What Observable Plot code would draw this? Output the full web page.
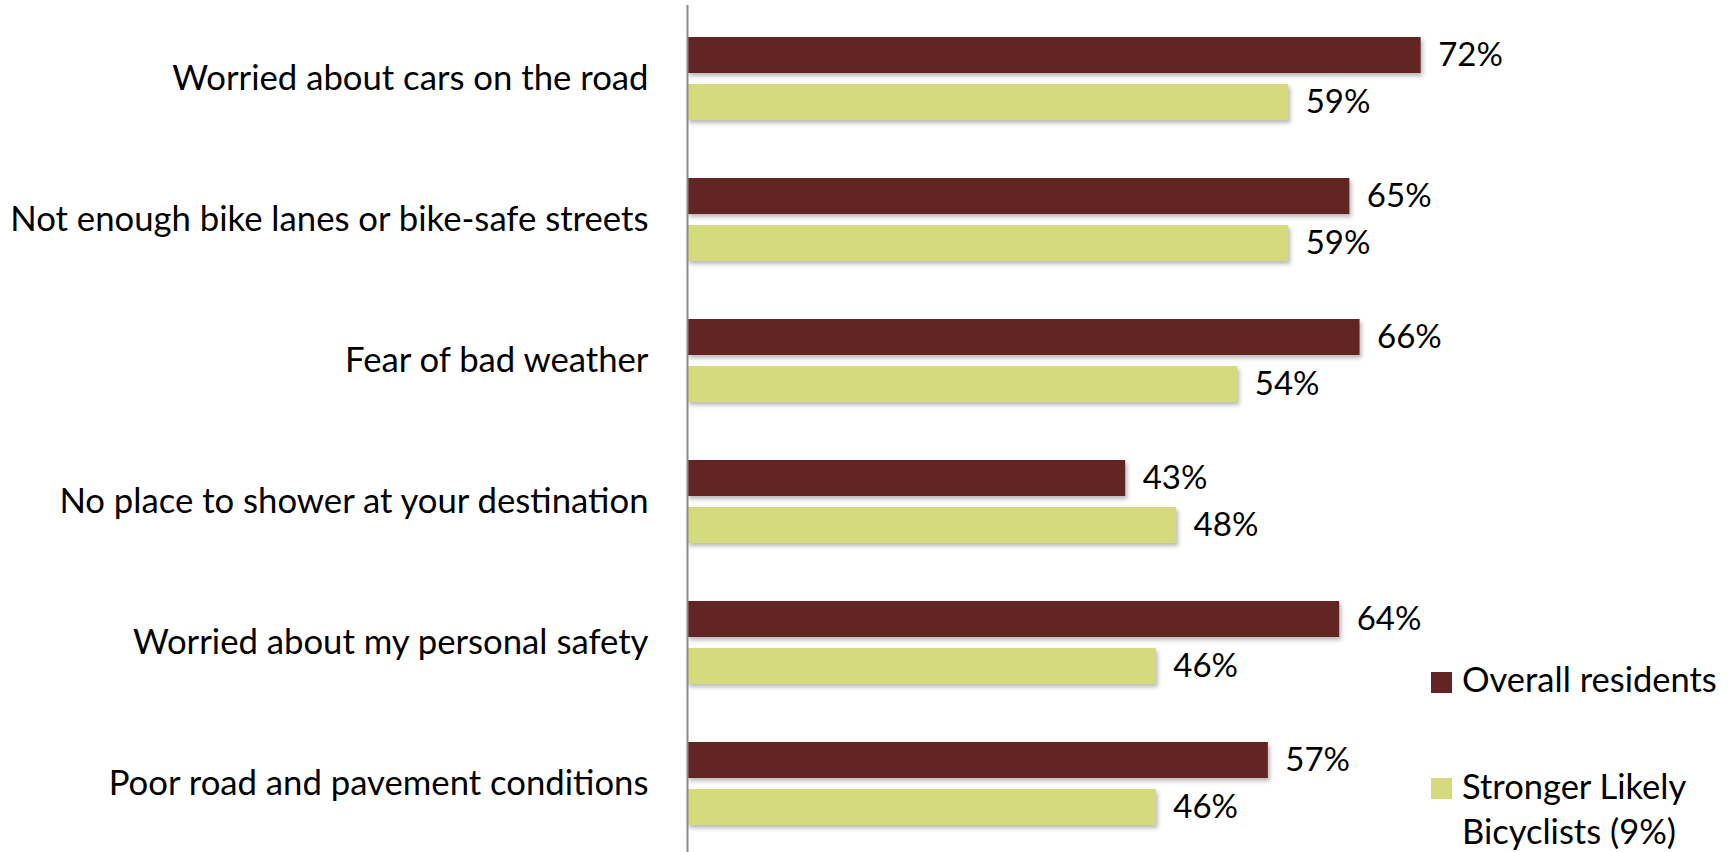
<!DOCTYPE html>
<html><head><meta charset="utf-8">
<script src="https://cdn.jsdelivr.net/npm/d3@7"></script>
<script src="https://cdn.jsdelivr.net/npm/@observablehq/plot@0.6"></script>
<style>
body{margin:0;background:#fff;}
#wrap{position:relative;width:1735px;height:852px;overflow:hidden;font-family:Lato,"Open Sans",sans-serif;}
#wrap svg g[aria-label="bar"] rect{filter:drop-shadow(2px 3px 2px rgba(0,0,0,0.28));}
#wrap svg g[aria-label^="y-axis"] text{font-size:34.7px;}
.sw{position:absolute;width:21px;height:21px;}
.lt{position:absolute;font-size:34.5px;line-height:45px;color:#000;white-space:nowrap;}
</style></head><body><div id="wrap"></div>
<script>
const categories = [
  "Worried about cars on the road",
  "Not enough bike lanes or bike-safe streets",
  "Fear of bad weather",
  "No place to shower at your destination",
  "Worried about my personal safety",
  "Poor road and pavement conditions"
];
const overall = [72, 65, 66, 43, 64, 57];
const stronger = [59, 59, 54, 48, 46, 46];
const seriesNames = ["Overall residents", "Stronger Likely Bicyclists (9%)"];
const seriesLines = [["Overall residents"], ["Stronger Likely", "Bicyclists (9%)"]];
const colors = ["#632523", "#d5da7d"];

const rows = categories.map((c, i) => ({category: c, overall: overall[i], stronger: stronger[i]}));

const chart = Plot.plot({
  width: 1735, height: 852,
  marginLeft: 687, marginRight: 29, marginTop: 5, marginBottom: 0,
  style: {fontFamily: "Lato, 'Open Sans', sans-serif", fontSize: "33px", color: "#000", background: "#fff"},
  x: {domain: [0, 100], axis: null},
  y: {domain: categories, paddingInner: 0.408, paddingOuter: 0.187, align: 0.55, label: null, tickSize: 0, tickPadding: 39},
  marks: [
    Plot.barX(rows, {x: "overall", y: "category", fill: colors[0], insetBottom: 47}),
    Plot.barX(rows, {x: "stronger", y: "category", fill: colors[1], insetTop: 47}),
    Plot.text(rows, {x: "overall", y: "category", text: d => d.overall + "%", dy: -23.5, dx: 17, textAnchor: "start", fill: "#000"}),
    Plot.text(rows, {x: "stronger", y: "category", text: d => d.stronger + "%", dy: 23.5, dx: 17, textAnchor: "start", fill: "#000"}),
    Plot.ruleX([0], {stroke: "#8c8c8c", strokeWidth: 2})
  ]
});
const wrap = document.getElementById("wrap");
wrap.appendChild(chart);

// legend
const legendPos = [{sx: 1431, sy: 672, tx: 1462, ty: 656}, {sx: 1431, sy: 778, tx: 1462, ty: 763}];
seriesNames.forEach((name, i) => {
  const sw = document.createElement("div");
  sw.className = "sw";
  sw.style.left = legendPos[i].sx + "px";
  sw.style.top = legendPos[i].sy + "px";
  sw.style.background = colors[i];
  wrap.appendChild(sw);
  const t = document.createElement("div");
  t.className = "lt";
  t.style.left = legendPos[i].tx + "px";
  t.style.top = legendPos[i].ty + "px";
  t.innerHTML = seriesLines[i].join("<br>");
  wrap.appendChild(t);
});
</script>
</body></html>
